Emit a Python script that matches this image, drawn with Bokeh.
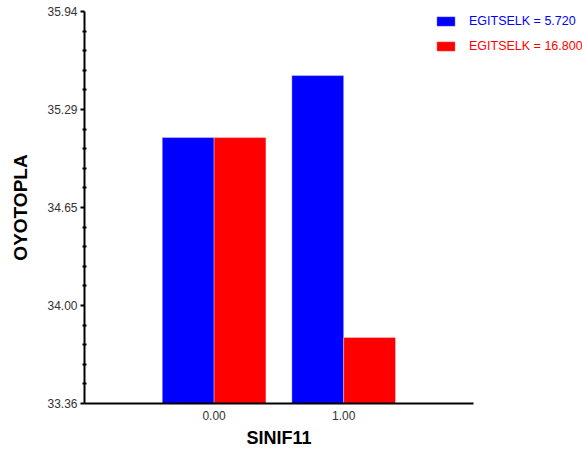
from bokeh.plotting import figure
from bokeh.models import Range1d, FixedTicker, Legend, LegendItem, Title
from bokeh.embed import file_html
from bokeh.resources import INLINE

# ---- data ----
groups = [0.0, 1.0]
blue_vals = [35.105, 35.513]
red_vals = [35.105, 33.79]
series_labels = ["EGITSELK = 5.720", "EGITSELK = 16.800"]
series_colors = ["#0000FF", "#FF0000"]
y_ticks = [33.355, 34.0, 34.645, 35.29, 35.935]
y_tick_labels = ["33.36", "34.00", "34.65", "35.29", "35.94"]
x_ticks = [0, 1]
x_tick_labels = ["0.00", "1.00"]
x_title = "SINIF11"
y_title = "OYOTOPLA"

y_min, y_max = y_ticks[0], y_ticks[-1]
x_axis_start, x_axis_end = -1.0, 2.0
bar_w = 0.4

minor = []
for a, b in zip(y_ticks[:-1], y_ticks[1:]):
    for k in range(1, 5):
        minor.append(a + (b - a) * k / 5)

p = figure(width=582, height=457, output_backend="svg", toolbar_location=None,
           x_range=Range1d(x_axis_start, 2.843), y_range=Range1d(y_min, y_max),
           min_border_left=84, min_border_right=0, min_border_top=11, min_border_bottom=54)
p.outline_line_color = None
p.grid.visible = False
p.background_fill_color = "white"
p.border_fill_color = "white"

r_blue = p.vbar(x=[g - bar_w / 2 for g in groups], top=blue_vals, bottom=y_min, width=bar_w,
                fill_color=series_colors[0], line_color="white", line_alpha=0.35, line_width=1)
r_red = p.vbar(x=[g + bar_w / 2 for g in groups], top=red_vals, bottom=y_min, width=bar_w,
               fill_color=series_colors[1], line_color="white", line_alpha=0.35, line_width=1)

# y axis
ya = p.yaxis[0]
ya.ticker = FixedTicker(ticks=y_ticks, minor_ticks=minor)
ya.major_label_overrides = {t: l for t, l in zip(y_ticks, y_tick_labels)}
ya.axis_line_width = 2
ya.axis_line_color = "black"
ya.major_tick_line_width = 2
ya.major_tick_out = 4
ya.major_tick_in = 0
ya.minor_tick_out = 2
ya.minor_tick_in = 2
ya.minor_tick_line_width = 2
ya.major_label_standoff = 3
ya.major_label_text_font = "Liberation Sans"
ya.major_label_text_font_size = "12px"
ya.major_label_text_color = "#333333"
ya.axis_label = y_title
ya.axis_label_text_font = "Liberation Sans"
ya.axis_label_text_font_style = "bold"
ya.axis_label_text_font_size = "19px"
ya.axis_label_text_color = "black"
ya.axis_label_standoff = 13

# x axis
xa = p.xaxis[0]
xa.bounds = (x_axis_start, x_axis_end)
xa.ticker = FixedTicker(ticks=x_ticks, minor_ticks=[])
xa.major_label_overrides = {t: l for t, l in zip(x_ticks, x_tick_labels)}
xa.axis_line_width = 2
xa.axis_line_color = "black"
xa.major_tick_out = 0
xa.major_tick_in = 0
xa.minor_tick_out = 0
xa.minor_tick_in = 0
xa.major_label_standoff = 7
xa.major_label_text_font = "Liberation Sans"
xa.major_label_text_font_size = "12px"
xa.major_label_text_color = "#333333"

# x axis title, centred under the drawn axis line
p.add_layout(Title(text=x_title, align="left", offset=162, standoff=7,
                   text_font="Liberation Sans", text_font_style="bold",
                   text_font_size="18px", text_color="black"), "below")

frame_h = 392
for i, (r, lab, col) in enumerate(zip([r_blue, r_red], series_labels, series_colors)):
    top = 4.7 + 25 * i
    lg = Legend(items=[LegendItem(label=lab, renderers=[r])],
                location=(350, frame_h - top - 12),
                padding=0, margin=0, spacing=0,
                border_line_alpha=0, background_fill_alpha=0,
                glyph_width=23, glyph_height=12, label_height=12,
                label_standoff=12,
                label_text_font="Liberation Sans", label_text_font_size="12.5px",
                label_text_color=col)
    p.add_layout(lg, "center")

open("out.html", "w").write(file_html(p, INLINE))
